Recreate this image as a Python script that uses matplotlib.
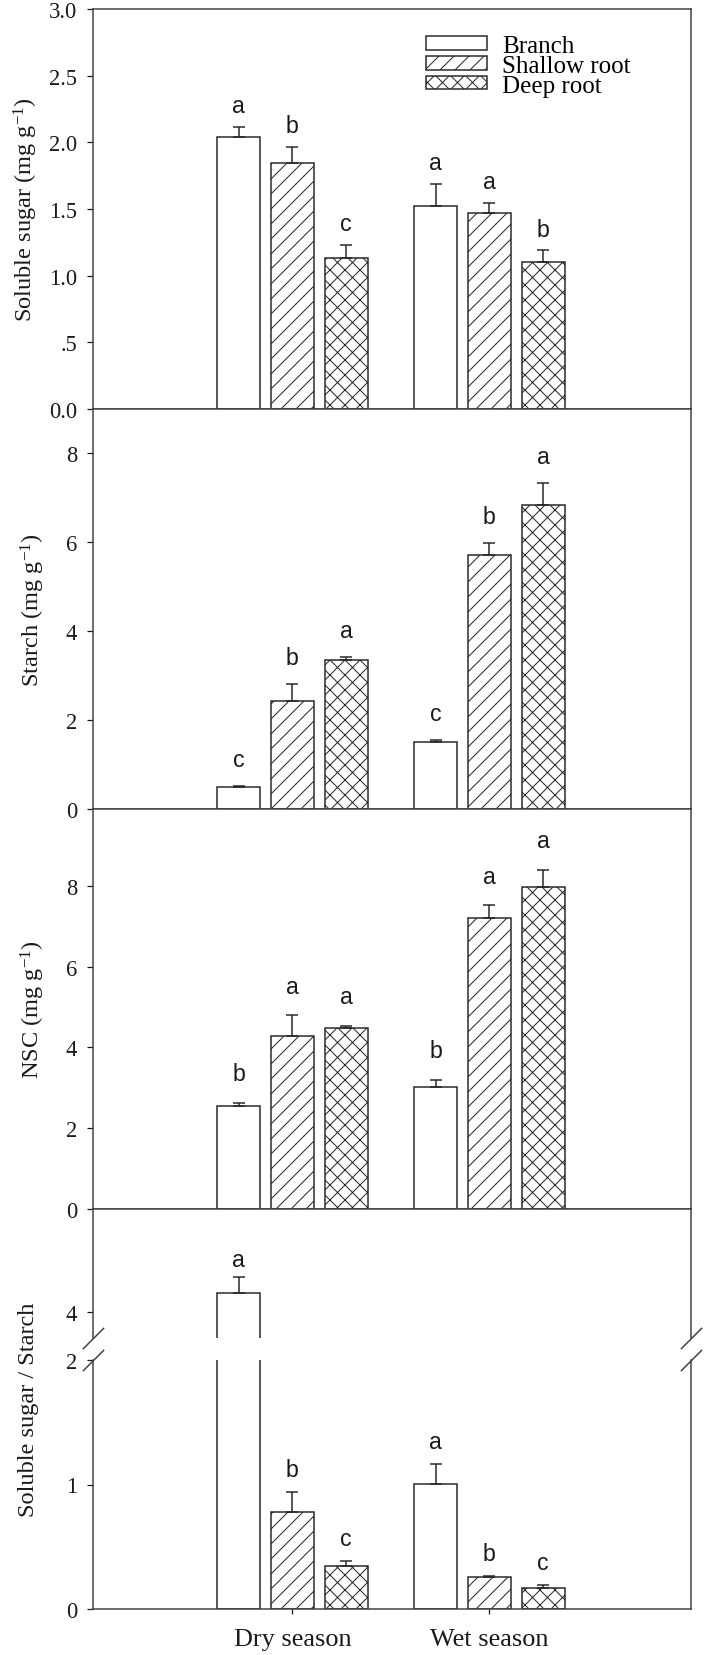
import numpy as np
import matplotlib
matplotlib.use("Agg")
import matplotlib.pyplot as plt

# ---------- data ----------
seasons = ["Dry season", "Wet season"]
tissues = ["Branch", "Shallow root", "Deep root"]

# values are [dry, wet] for each tissue
sugar = {"Branch": [2.04, 1.52], "Shallow root": [1.845, 1.47], "Deep root": [1.135, 1.105]}
sugar_err = {"Branch": [0.075, 0.17], "Shallow root": [0.12, 0.075], "Deep root": [0.095, 0.085]}
sugar_letters = {"Branch": ["a", "a"], "Shallow root": ["b", "a"], "Deep root": ["c", "b"]}

starch = {"Branch": [0.50, 1.51], "Shallow root": [2.43, 5.72], "Deep root": [3.35, 6.85]}
starch_err = {"Branch": [0.02, 0.05], "Shallow root": [0.39, 0.26], "Deep root": [0.07, 0.49]}
starch_letters = {"Branch": ["c", "c"], "Shallow root": ["b", "b"], "Deep root": ["a", "a"]}

nsc = {"Branch": [2.54, 3.03], "Shallow root": [4.27, 7.21], "Deep root": [4.49, 7.96]}
nsc_err = {"Branch": [0.09, 0.17], "Shallow root": [0.52, 0.31], "Deep root": [0.05, 0.44]}
nsc_letters = {"Branch": ["b", "b"], "Shallow root": ["a", "a"], "Deep root": ["a", "a"]}

ratio = {"Branch": [4.145, 1.008], "Shallow root": [0.78, 0.259], "Deep root": [0.342, 0.168]}
ratio_err = {"Branch": [0.125, 0.155], "Shallow root": [0.16, 0.006], "Deep root": [0.04, 0.025]}
ratio_letters = {"Branch": ["a", "a"], "Shallow root": ["b", "b"], "Deep root": ["c", "c"]}

sugar_ticks = [0.0, 0.5, 1.0, 1.5, 2.0, 2.5, 3.0]
sugar_ticklabels = ["0.0", ".5", "1.0", "1.5", "2.0", "2.5", "3.0"]
starch_ticks = [0, 2, 4, 6, 8]
nsc_ticks = [0, 2, 4, 6, 8]
ratio_low_ticks = [0, 1, 2]
ratio_high_ticks = [4]

# ---------- style ----------
DPI = 90
W, H = 704, 1656
EDGE = "#262626"
plt.rcParams["font.family"] = ["Liberation Serif", "DejaVu Serif"]
plt.rcParams["mathtext.fontset"] = "custom"
plt.rcParams["mathtext.rm"] = "Liberation Serif"
plt.rcParams["mathtext.default"] = "regular"
plt.rcParams["hatch.linewidth"] = 0.8
plt.rcParams["hatch.color"] = EDGE
plt.rcParams["axes.linewidth"] = 1.2
plt.rcParams["axes.edgecolor"] = "#404040"

hatches = {"Branch": "", "Shallow root": "//", "Deep root": "xx"}
offsets = {"Branch": -0.2726, "Shallow root": 0.0, "Deep root": 0.2726}
BAR_W = 0.218
XLIM = (-1.012, 2.023)
LETTER_FONT = ["Liberation Sans Narrow", "Liberation Sans", "DejaVu Sans"]

fig = plt.figure(figsize=(W / DPI, H / DPI), dpi=DPI)


def px_axes(top, bottom):
    # axes rectangle given in reference pixel rows
    left, right = 93, 691
    return fig.add_axes([left / W, (H - bottom) / H, (right - left) / W, (bottom - top) / H])


def draw_bars(ax, vals, errs, letters, letter_off, only=None):
    x = np.arange(len(seasons))
    for t in tissues:
        if only is not None and t not in only:
            continue
        xs = x + offsets[t]
        v = np.array(vals[t])
        e = np.array(errs[t])
        ax.bar(xs, v, BAR_W, color="white", edgecolor=EDGE, linewidth=1.2,
               hatch=hatches[t], label=t, zorder=2)
        ax.errorbar(xs, v, yerr=[np.zeros_like(e), e], fmt="none", ecolor=EDGE,
                    elinewidth=1.2, capsize=4.8, capthick=1.2, zorder=3)
        for xi, vi, ei, lab in zip(xs, v, e, letters[t]):
            ax.annotate(lab, (xi, vi + ei), xytext=(0, letter_off), textcoords="offset points",
                        ha="center", va="center", fontsize=18.5, family=LETTER_FONT,
                        color="#1a1a1a", annotation_clip=True)


def style_axis(ax, ylim, ticks, ticklabels=None):
    ax.set_xlim(*XLIM)
    ax.set_ylim(*ylim)
    ax.set_yticks(ticks)
    if ticklabels is not None:
        ax.set_yticklabels(ticklabels)
    ax.tick_params(axis="y", direction="out", length=4.5, width=1.0, labelsize=18,
                   pad=8, colors="#1a1a1a")
    ax.set_xticks([])


def set_ylabel(ax, text, xpos, ypos=0.5):
    ax.set_ylabel(text, fontsize=19.5, color="#1a1a1a")
    ax.yaxis.set_label_coords(xpos, ypos)
    ax.yaxis.label.set_va("center")


# panel 1: soluble sugar
ax1 = px_axes(10, 410)
draw_bars(ax1, sugar, sugar_err, sugar_letters, 17)
style_axis(ax1, (0, 3), sugar_ticks, sugar_ticklabels)
set_ylabel(ax1, "Soluble sugar (mg g$^{-1}$)", -0.112)
ax1.legend(loc="upper left", bbox_to_anchor=(0.557, 0.935), frameon=False, fontsize=20,
           handlelength=2.45, handleheight=0.45, handletextpad=0.6, labelspacing=-0.09,
           borderpad=0, borderaxespad=0)

# panel 2: starch
ax2 = px_axes(410, 810)
draw_bars(ax2, starch, starch_err, starch_letters, 21)
style_axis(ax2, (0, 9), starch_ticks)
set_ylabel(ax2, "Starch (mg g$^{-1}$)", -0.101)

# panel 3: NSC
ax3 = px_axes(810, 1210)
draw_bars(ax3, nsc, nsc_err, nsc_letters, 23)
style_axis(ax3, (0, 9.9), nsc_ticks)
set_ylabel(ax3, "NSC (mg g$^{-1}$)", -0.101)

# panel 4: ratio with a broken y axis
ax4h = px_axes(1210, 1339)
ax4l = px_axes(1361, 1610)
draw_bars(ax4h, ratio, ratio_err, ratio_letters, 14, only=["Branch"])
draw_bars(ax4l, {t: [v if v < 2 else np.nan for v in ratio[t]] for t in tissues},
          ratio_err, {t: [l if v < 2 else "" for v, l in zip(ratio[t], ratio_letters[t])] for t in tissues}, 18)
# the tall dry branch bar also runs through the lower axis
ax4l.bar([offsets["Branch"]], [ratio["Branch"][0]], BAR_W, color="white", edgecolor=EDGE,
         linewidth=1.2, zorder=2)
style_axis(ax4h, (3.8, 4.8), ratio_high_ticks)
style_axis(ax4l, (0, 2), ratio_low_ticks)
ax4h.spines["bottom"].set_visible(False)
ax4l.spines["top"].set_visible(False)
set_ylabel(ax4l, "Soluble sugar / Starch", -0.108, 0.803)

# break marks
kw = dict(marker=[(-1, -1), (1, 1)], markersize=17, linestyle="none", color="#404040",
          mec="#404040", mew=1.2, clip_on=False)
ax4h.plot([0, 1], [0, 0], transform=ax4h.transAxes, **kw)
ax4l.plot([0, 1], [1, 1], transform=ax4l.transAxes, **kw)

ax4l.set_xticks(np.arange(len(seasons)))
ax4l.set_xticklabels(seasons)
ax4l.tick_params(axis="x", direction="out", length=4, width=1.0, labelsize=21, pad=11,
                 colors="#1a1a1a")

fig.savefig("out.png", dpi=DPI)
